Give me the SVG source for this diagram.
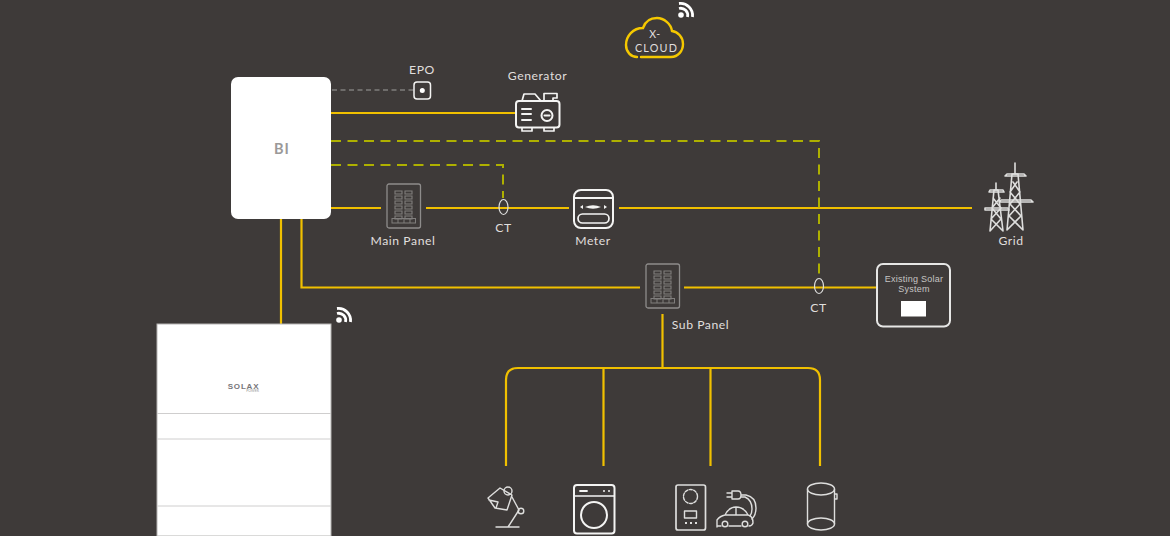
<svg xmlns="http://www.w3.org/2000/svg" width="1170" height="536" viewBox="0 0 1170 536">
<style>
text{font-family:"Lato","Open Sans","Liberation Sans",sans-serif;fill:#e0dfde;text-anchor:middle}
.l{font-size:12.2px;letter-spacing:.55px}
.y{fill:none;stroke:#f0c000;stroke-width:2.2}
.d{fill:none;stroke:#aeb000;stroke-width:2;stroke-dasharray:10 6.500}
.i{fill:none;stroke:#f4f4f3;stroke-width:2;stroke-linejoin:round;stroke-linecap:round}
.t{fill:none;stroke:#dededd;stroke-width:1.400;stroke-linejoin:round;stroke-linecap:round}
.p{fill:none;stroke:#807e7d;stroke-width:1.100}
.w{fill:none;stroke:#fff;stroke-width:2.800}
</style>
<defs>
<g id="wifi"><circle cx="-5" cy="5" r="2.800" fill="#fff"/><path class="w" d="M-7 -1.500A7 7 0 0 1 1.500 7M-7 -6.500A12 12 0 0 1 6.500 7"/></g>
<g id="rows" class="p"><path d="M0 0h7v3h-7zM10 0h7v3h-7zM0 5h7v3h-7zM10 5h7v3h-7zM0 10h7v3h-7zM10 10h7v3h-7zM0 15h7v3h-7zM10 15h7v3h-7zM0 20h7v3h-7zM10 20h7v3h-7zM0 25h7v3h-7zM10 25h7v3h-7z"/></g>
<g id="panel"><rect x="0" y="0" width="33.500" height="44" rx="2" fill="none" stroke="#8e8c8b" stroke-width="1.300"/><use href="#rows" x="8" y="7"/><rect x="5" y="34.500" width="23.500" height="4.500" fill="none" stroke="#807e7d" stroke-width="1"/><path d="M11 34.500v4.500M17 34.500v4.500M23 34.500v4.500" stroke="#807e7d" stroke-width="1"/></g>
</defs>
<rect width="1170" height="536" fill="#3e3a39"/>
<g id="connectors">
<path class="y" d="M331 113H516M331 208H381M426 208H569M619 208H972M281 219V324M301.500 219V287.500H640M684 287.500H876M662.500 314V368"/>
<path class="y" d="M506 466V380Q506 368 518 368H808Q820 368 820 380V466M603.500 368V466M710.500 368V466"/>
<path class="d" d="M331 141H819V279M331 165H503V198"/>
<path d="M332 90H414" fill="none" stroke="#7f7d7c" stroke-width="1.500" stroke-dasharray="5 3.500"/>
</g>
<g id="x-cloud">
<path d="M641 57H671C678 57 683 51 683 44C683 37 678 32 672 31C671 24 664 18 657 18C650 18 645 22 643 28C633 28 626 36 626 45C626 52 631 57 637 57" fill="none" stroke="#f5c800" stroke-width="2.400" stroke-linecap="round"/>
<text x="655" y="38" font-size="10.500" letter-spacing=".5">X-</text>
<text x="656.500" y="51.500" font-size="10.800" letter-spacing="1.200">CLOUD</text>
<use href="#wifi" x="686" y="10"/>
</g>
<g id="bi">
<rect x="231" y="77" width="100" height="142" rx="7" fill="#fff"/>
<text x="282" y="154" font-size="14.500" font-weight="700" letter-spacing="1" style="fill:#9b9998">BI</text>
</g>
<g id="epo">
<rect x="414" y="82" width="16.500" height="17" rx="3" class="i" style="stroke-width:1.500"/>
<circle cx="422.300" cy="90.500" r="2.500" fill="#fff"/>
<text class="l" x="422" y="74">EPO</text>
</g>
<g id="generator">
<rect x="516" y="101" width="43.500" height="26.500" rx="3" class="i"/>
<path class="i" d="M522 101L524 94H535L541 101M544 101V93.500H557V98H553V101M522 128V131H532V128M544 128V131H554V128" style="stroke-width:1.700"/>
<path class="i" d="M522 109H531M522 114H531M522 120H531"/>
<circle cx="547" cy="115.500" r="5.500" class="i"/>
<path class="i" d="M544.500 115.500H549.500"/>
<text class="l" x="537.500" y="80">Generator</text>
</g>
<g id="main-panel">
<use href="#panel" x="387" y="184"/>
<text class="l" x="403" y="245">Main Panel</text>
</g>
<g id="ct-1">
<ellipse cx="503.500" cy="207" rx="4.500" ry="7.500" fill="none" stroke="#dededd" stroke-width="1.200"/>
<text class="l" x="503.500" y="232">CT</text>
</g>
<g id="meter">
<rect x="574" y="190" width="39" height="38" rx="7" class="i"/>
<path class="i" d="M574 198H613"/>
<path d="M585 207Q593 203.500 601 207Q593 210.500 585 207Z" fill="#f4f4f3"/>
<path d="M580 207l3-2v4zM607 207l-3-2v4z" fill="#f4f4f3"/>
<rect x="578" y="214" width="31" height="9" rx="4.500" class="i" style="stroke-width:1.700"/>
<text class="l" x="593" y="245">Meter</text>
</g>
<g id="grid">
<g class="t" style="stroke-width:1.600">
<path d="M1015 163V174M1012 174H1018L1023 230M1012 174L1007 230M1007 230L1021 216L1010 204L1020 192L1013 182M1023 230L1009 216L1020 204L1010 192L1017 182"/>
<path d="M1007 174H1024L1026 176H1005ZM1001 200H1031L1033 202H999Z"/>
<path d="M996 183V190M994 190H998L1003 231M994 190L990 231M990 231L1001 219L992 208L1000 198M1003 231L991 219L1001 208L993 198"/>
<path d="M990 190H1003L1004 192H989ZM985 208H1008L1009 210H985Z"/>
</g>
<text class="l" x="1011" y="245">Grid</text>
</g>
<g id="sub-panel">
<use href="#panel" x="646" y="264"/>
<text class="l" x="700.500" y="329">Sub Panel</text>
</g>
<g id="ct-2">
<ellipse cx="819" cy="286" rx="4.500" ry="7.500" fill="none" stroke="#dededd" stroke-width="1.200"/>
<text class="l" x="818.500" y="312">CT</text>
</g>
<g id="existing-solar">
<rect x="877" y="264" width="73" height="62.500" rx="6" fill="none" stroke="#e6e6e5" stroke-width="2"/>
<text x="914" y="282" font-size="9" letter-spacing=".25" style="font-family:'Liberation Sans',sans-serif;fill:#c6c5c4">Existing Solar</text>
<text x="914" y="292" font-size="9" letter-spacing=".25" style="font-family:'Liberation Sans',sans-serif;fill:#c6c5c4">System</text>
<rect x="901" y="301" width="25" height="15.500" fill="#fff"/>
</g>
<g id="battery">
<rect x="157" y="324" width="174" height="212" fill="#fff" stroke="#b5b4b3" stroke-width="1"/>
<path d="M157 413.500H331M157 439H331M157 506H331" stroke="#cfcece" stroke-width="1"/>
<text x="243.500" y="389" font-size="8" font-weight="700" style="font-family:'Liberation Sans',sans-serif;fill:#77767a" letter-spacing=".8">SOLAX</text>
<text x="252.500" y="392" font-size="3.500" style="fill:#999">POWER</text>
<use href="#wifi" x="344" y="315"/>
</g>
<g id="lamp">
<path class="t" d="M500 488L488 498L495 508L507 510L512 495ZM489 500L498 502L496 508"/>
<circle cx="508" cy="491" r="4" class="t" fill="#3e3a39"/>
<path class="t" d="M512 497L519 510L508 527M496 527H519"/>
<circle cx="521" cy="511" r="2.800" class="t"/>
</g>
<g id="washer">
<rect x="574" y="485" width="40.500" height="48.500" rx="3" class="i"/>
<path class="i" d="M574 496H614" style="stroke-width:1.600"/>
<path class="i" d="M580 491H587" style="stroke-width:1.800"/>
<circle cx="604" cy="491" r="1" fill="#f4f4f3"/><circle cx="609" cy="491" r="1" fill="#f4f4f3"/>
<circle cx="594" cy="515" r="13" class="i"/>
</g>
<g id="charger">
<rect x="676" y="485" width="29.500" height="45" rx="2" class="t" style="stroke-width:1.700"/>
<circle cx="690.500" cy="496.500" r="7" class="t" stroke-dasharray="3 1.500"/>
<rect x="684.500" y="511" width="12" height="7" class="t"/>
<path d="M685 522h2v2h-2zM690 522h2v2h-2zM695 522h2v2h-2z" fill="#dededd"/>
<path class="t" d="M732 491H738Q741 491 741 495Q741 499 738 499H732ZM732 493H727M732 497H727M741 495H746Q756 497 756 508Q756 515 752 519M741 497H745Q752 500 752 509Q752 513 750 516"/>
<path class="t" d="M717 527V520Q720 516 725 515Q729 507 736 507Q744 507 748 515Q753 516 753 523Q752 526 749 526M741 526H729M721 526H718M725 515H748M736 507V515"/>
<circle cx="725" cy="524" r="2.800" class="t"/><circle cx="745" cy="524" r="2.800" class="t"/>
</g>
<g id="water-tank">
<ellipse cx="821" cy="489" rx="13.500" ry="6" class="t"/>
<ellipse cx="821" cy="524" rx="13.500" ry="6" class="t"/>
<path class="t" d="M807.500 489V524M834.500 489V524M834.500 494H837V499H834.500"/>
</g>
</svg>
